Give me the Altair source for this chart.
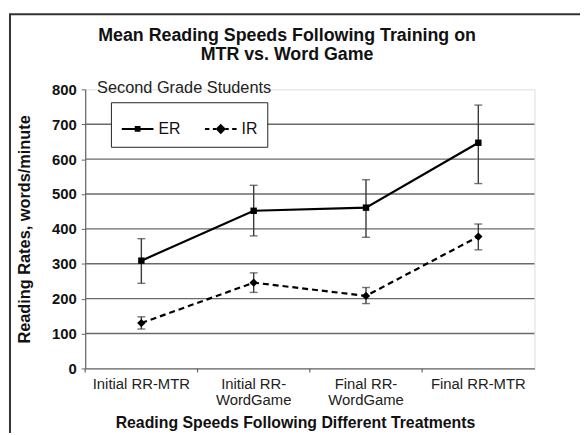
import altair as alt
import pandas as pd

# ---- data ----
categories = ["Initial RR-MTR", "Initial RR-WordGame", "Final RR-WordGame", "Final RR-MTR"]
er_mean = [309, 452, 461, 647]
er_low = [244, 380, 376, 530]
er_high = [372, 525, 541, 755]
ir_mean = [130, 246, 208, 378]
ir_low = [113, 218, 186, 340]
ir_high = [148, 274, 232, 414]
series_names = ["ER", "IR"]
y_tick_values = [0, 100, 200, 300, 400, 500, 600, 700, 800]
grid_values = [100, 200, 300, 400, 500, 600, 700]
title_lines = ["Mean Reading Speeds Following Training on", "MTR vs. Word Game"]
note_text = "Second Grade Students"
x_title = "Reading Speeds Following Different Treatments"
y_title = "Reading Rates, words/minute"

rows = []
for name, m, lo, hi in [("ER", er_mean, er_low, er_high), ("IR", ir_mean, ir_low, ir_high)]:
    for c, a, b, d in zip(categories, m, lo, hi):
        rows.append({"series": name, "cat": c, "mean": a, "lo": b, "hi": d})
df = pd.DataFrame(rows)
er_df = df[df.series == "ER"]
ir_df = df[df.series == "IR"]
cat_df = pd.DataFrame({"cat": categories})
grid_df = pd.DataFrame({"mean": grid_values})
note_df = pd.DataFrame({"note": [note_text]})

FONT = "Liberation Sans"
W, H = 454, 282

x_axis = alt.Axis(
    labelAngle=0, ticks=False, tickSize=0, labelPadding=8, labelFontSize=15,
    labelFont=FONT, labelColor="#222", labelLineHeight=16.5,
    labelExpr="indexof(datum.value, 'WordGame') > 0 ? [replace(datum.value, 'WordGame', ''), 'WordGame'] : datum.value",
    domainColor="#666", domainWidth=1.2,
    titleFont=FONT, titleFontSize=16, titleFontWeight="bold", titleColor="#111",
    titleX=212, titleY=55, titleBaseline="middle",
)
x_scale = alt.Scale(paddingInner=0, paddingOuter=0)


def xenc(**kw):
    return alt.X("cat:N", sort=categories, scale=x_scale, axis=x_axis, title=x_title, **kw)


y_axis = alt.Axis(
    values=y_tick_values, grid=False, tickSize=4, tickColor="#666", labelPadding=5,
    labelFont=FONT, labelFontSize=15, labelFontWeight="bold", labelColor="#111",
    domainColor="#666", domainWidth=1.2,
    titleFont=FONT, titleFontSize=16.5, titleFontWeight="bold", titleColor="#111",
    titleX=-53,
)
y_scale = alt.Scale(domain=[0, 800], nice=False)


def yenc(field):
    return alt.Y(f"{field}:Q", scale=y_scale, axis=y_axis, title=y_title)


# grid lines 100..700
grid = alt.Chart(grid_df).mark_rule(color="#6a6a6a", strokeWidth=1.4).encode(y=yenc("mean"))

# tick marks between categories on the x axis
xticks = alt.Chart(cat_df).mark_rule(color="#666", strokeWidth=1.2).encode(
    x=xenc(bandPosition=0), y=alt.value(H), y2=alt.value(H + 4)
)

err_color = "#3a3a3a"
err = alt.Chart(df).mark_rule(color=err_color, strokeWidth=1.4).encode(
    x=xenc(), y=yenc("lo"), y2="hi:Q"
)
cap_lo = alt.Chart(df).mark_tick(color=err_color, size=8, thickness=1.4).encode(x=xenc(), y=yenc("lo"))
cap_hi = alt.Chart(df).mark_tick(color=err_color, size=8, thickness=1.4).encode(x=xenc(), y=yenc("hi"))

er_line = alt.Chart(er_df).mark_line(color="#000", strokeWidth=2.2).encode(x=xenc(), y=yenc("mean"))
ir_line = alt.Chart(ir_df).mark_line(color="#000", strokeWidth=2.2, strokeDash=[6, 4]).encode(
    x=xenc(), y=yenc("mean")
)
er_pts = alt.Chart(er_df).mark_point(shape="square", filled=True, color="#000", size=42, opacity=1).encode(
    x=xenc(), y=yenc("mean")
)
ir_pts = alt.Chart(ir_df).mark_point(shape="diamond", filled=True, color="#000", size=72, opacity=1).encode(
    x=xenc(), y=yenc("mean")
)

# legend symbols: line + (solid-looking) marker drawn as stroked outlines
path_er = ("M-1,0H1"
           "M-0.12,-0.12H0.12V0.12H-0.12Z"
           "M-0.05,-0.05H0.05V0.05H-0.05Z")
path_ir = ("M-1,0H-0.72M-0.5,0H-0.3M0.3,0H0.5M0.72,0H1"
           "M0,-0.24L0.24,0L0,0.24L-0.24,0Z"
           "M0,-0.12L0.12,0L0,0.12L-0.12,0Z"
           "M0,-0.03L0.03,0L0,0.03L-0.03,0Z")
legend_layer = alt.Chart(df).transform_filter("false").mark_point(
    filled=False, color="#000", strokeWidth=2, opacity=1
).encode(
    x=xenc(), y=yenc("mean"),
    shape=alt.Shape(
        "series:N",
        scale=alt.Scale(domain=series_names, range=[path_er, path_ir]),
        legend=alt.Legend(
            title=None, orient="none", legendX=26, legendY=13, direction="horizontal",
            fillColor="white", strokeColor="#222", padding=10,
            symbolSize=1024, symbolStrokeWidth=2, symbolStrokeColor="#000", symbolOpacity=1,
            labelFont=FONT, labelFontSize=16, labelColor="#111", labelOffset=4,
            columnPadding=20,
        ),
    ),
)

note = alt.Chart(note_df).mark_text(
    align="left", baseline="middle", font=FONT, fontSize=16.5, color="#222"
).encode(text="note:N", x=alt.value(12), y=alt.value(-1))

frame_v = alt.Chart(alt.Data(values=[{}])).mark_rule(color="#333", strokeWidth=2).encode(
    x=alt.value(-76), y=alt.value(-76), y2=alt.value(420)
)
frame_h = alt.Chart(alt.Data(values=[{}])).mark_rule(color="#333", strokeWidth=2).encode(
    x=alt.value(-77), x2=alt.value(620), y=alt.value(-76)
)

chart = alt.layer(
    frame_v, frame_h, grid, xticks, err, cap_lo, cap_hi, er_line, ir_line, er_pts, ir_pts,
    legend_layer, note,
).properties(
    width=W, height=H,
    title=alt.TitleParams(
        text=title_lines, font=FONT, fontSize=18, fontWeight="bold", color="#111",
        anchor="middle", dx=-23, dy=63, lineHeight=19, offset=12,
    ),
    padding={"left": 78, "top": 80, "right": 46, "bottom": 63},
    autosize=alt.AutoSizeParams(type="none"),
).configure_view(stroke=None).configure(background="white")

chart.save("out.html", embed_options={"renderer": "svg", "actions": False})
